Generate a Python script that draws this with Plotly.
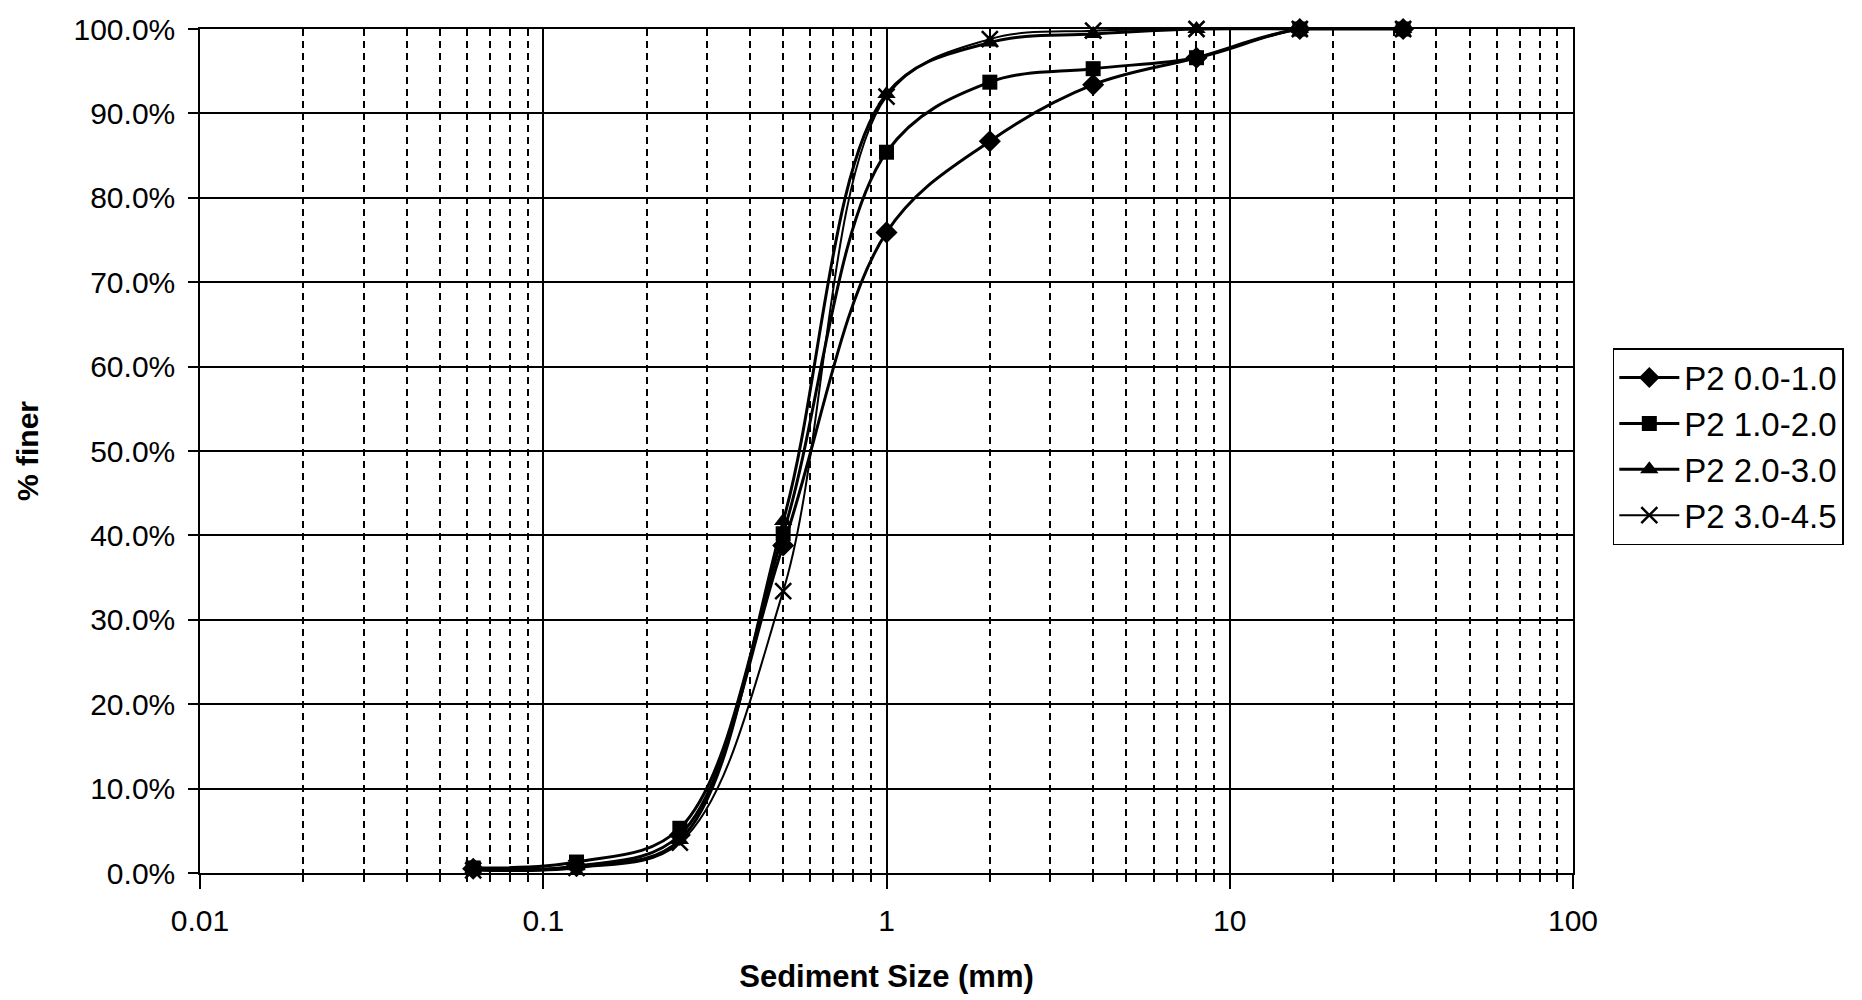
import plotly.graph_objects as go

# Sieve sizes (mm)
sizes = [0.0625, 0.125, 0.25, 0.5, 1, 2, 4, 8, 16, 32]

# Percent finer for each sample
p2_00_10 = [0.5, 0.8, 4.5, 38.8, 75.9, 86.7, 93.4, 96.6, 100.0, 100.0]
p2_10_20 = [0.6, 1.3, 5.3, 40.2, 85.4, 93.7, 95.3, 96.6, 100.0, 100.0]
p2_20_30 = [0.4, 0.8, 3.9, 41.7, 92.3, 98.4, 99.4, 100.0, 100.0, 100.0]
p2_30_45 = [0.3, 0.6, 3.6, 33.4, 92.0, 98.8, 99.8, 100.0, 100.0, 100.0]

series_names = ["P2 0.0-1.0", "P2 1.0-2.0", "P2 2.0-3.0", "P2 3.0-4.5"]
series_vals = [p2_00_10, p2_10_20, p2_20_30, p2_30_45]
symbols = ["diamond", "square", "triangle-up", "x-thin"]
msizes = [17, 15, 16, 16]
lwidths = [3, 3, 3, 2]

y_ticks = [i / 10 for i in range(11)]
x_major = [0.01, 0.1, 1, 10, 100]
x_major_text = ["0.01", "0.1", "1", "10", "100"]
x_minor = [m * 10 ** e for e in range(-2, 2) for m in range(2, 10)]

FONT = "Liberation Sans, Arial, Helvetica, sans-serif"

fig = go.Figure()
for name, vals, sym, ms, lw in zip(series_names, series_vals, symbols, msizes, lwidths):
    marker = dict(symbol=sym, size=ms, color="black")
    if sym == "x-thin":
        marker["line"] = dict(color="black", width=2.5)
    fig.add_trace(go.Scatter(
        x=sizes, y=[v / 100 for v in vals], name=name,
        mode="lines+markers", line=dict(color="black", width=lw, shape="spline"),
        marker=marker, cliponaxis=False,
    ))

fig.update_layout(
    width=1862, height=1000,
    margin=dict(l=200, r=289, t=21, b=125),
    paper_bgcolor="white", plot_bgcolor="white",
    font=dict(family=FONT, color="black", size=30),
    showlegend=True,
    legend=dict(
        x=1.029, y=0.622, xanchor="left", yanchor="top",
        bordercolor="black", borderwidth=1.5, bgcolor="white",
        font=dict(family=FONT, size=33, color="black"),
        tracegroupgap=0, itemwidth=60,
    ),
)

fig.update_xaxes(
    type="log", range=[-2, 2],
    tickvals=x_major, ticktext=x_major_text,
    ticks="outside", ticklen=14, tickwidth=1.5, tickcolor="black",
    tickfont=dict(family=FONT, size=30, color="black"),
    ticklabelstandoff=6,
    showgrid=True, gridcolor="black", gridwidth=1.5,
    showline=True, linecolor="black", linewidth=1.5, mirror=True,
    zeroline=False,
    minor=dict(tickvals=x_minor, ticks="outside", ticklen=7, tickcolor="black",
               showgrid=True, gridcolor="black", gridwidth=1.5, griddash="7px,5px"),
    title=dict(text="<b>Sediment Size (mm)</b>",
               font=dict(family=FONT, size=31, color="black"), standoff=30),
)

fig.update_yaxes(
    range=[0, 1], tickvals=y_ticks, tickformat=".1%",
    ticks="outside", ticklen=10, tickwidth=1.5, tickcolor="black",
    tickfont=dict(family=FONT, size=30, color="black"),
    ticklabelstandoff=7,
    showgrid=True, gridcolor="black", gridwidth=1.5,
    showline=True, linecolor="black", linewidth=1.5, mirror=True,
    zeroline=False,
    title=dict(text="<b>% finer</b>",
               font=dict(family=FONT, size=30, color="black"),
               standoff=26),
)

fig.write_html("out.html")
